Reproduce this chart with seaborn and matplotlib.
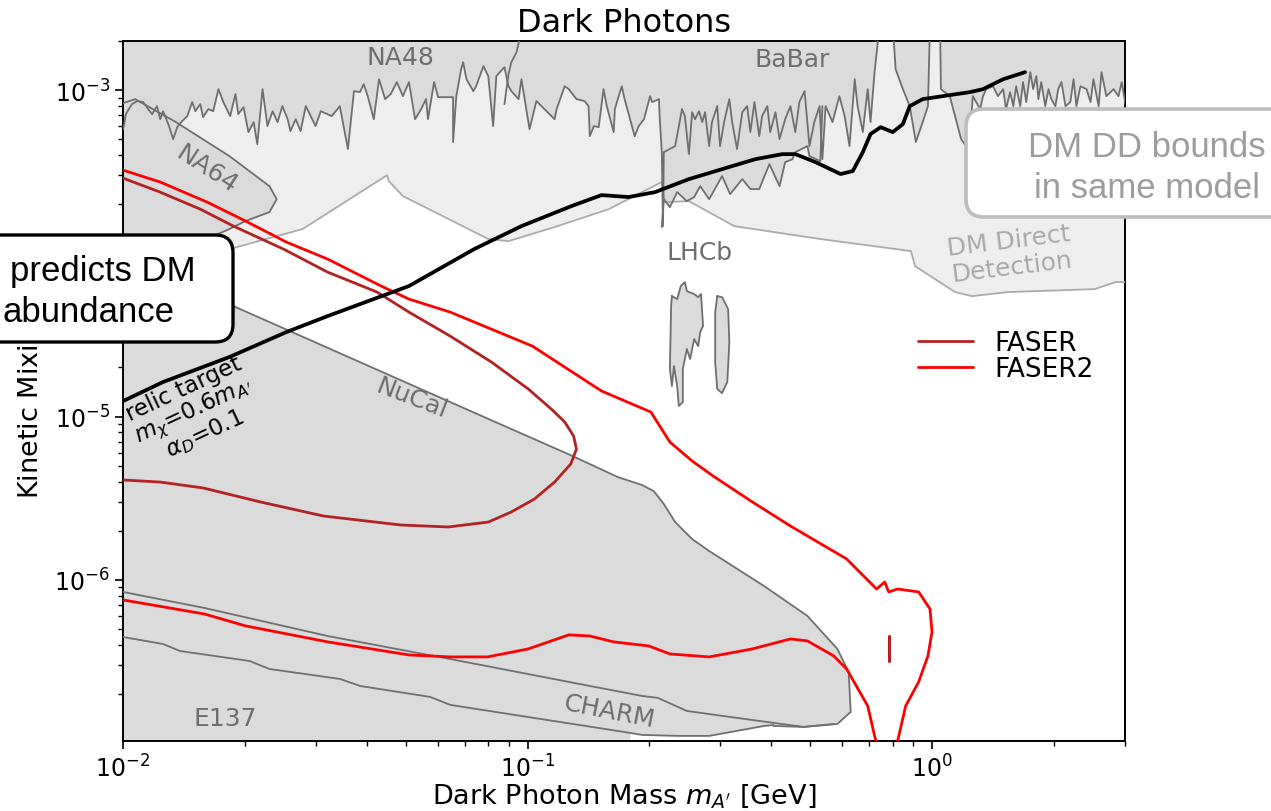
import numpy as np
import matplotlib
matplotlib.use("Agg")
import matplotlib.pyplot as plt
import seaborn as sns
from matplotlib.patches import FancyBboxPatch
from matplotlib.lines import Line2D

sns.set_theme(style="ticks")
plt.rcParams['font.family'] = ['DejaVu Sans']
plt.rcParams['mathtext.fontset'] = 'dejavusans'
plt.rcParams['text.color'] = 'black'
plt.rcParams['axes.labelcolor'] = 'black'

# ---------------- data (log10 of mass [GeV], log10 of epsilon) ----------------
# NA48 / BaBar upper exclusion (lower envelope, jagged)
na48_babar_logm = [-2.000, -1.998, -1.993, -1.978, -1.965, -1.950, -1.938, -1.928, -1.916, -1.908,
                   -1.901, -1.888, -1.876, -1.866, -1.854, -1.841, -1.829, -1.821, -1.809, -1.802,
                   -1.789, -1.777, -1.764, -1.752, -1.735, -1.722, -1.715, -1.702, -1.690, -1.677,
                   -1.668, -1.655, -1.643, -1.630, -1.618, -1.606, -1.593, -1.586, -1.573, -1.561,
                   -1.548, -1.536, -1.524, -1.511, -1.484, -1.464, -1.444, -1.429, -1.414, -1.405,
                   -1.395, -1.380, -1.367, -1.352, -1.338, -1.323, -1.308, -1.293, -1.278, -1.263,
                   -1.251, -1.246, -1.231, -1.221, -1.184, -1.184, -1.176, -1.164, -1.159, -1.151,
                   -1.134, -1.127, -1.109, -1.097, -1.085, -1.077, -1.057, -1.047, -1.040, -1.022,
                   -1.015, -0.995, -0.978, -0.933, -0.928, -0.908, -0.898, -0.879, -0.859, -0.849,
                   -0.846, -0.836, -0.824, -0.812, -0.804, -0.787, -0.784, -0.767, -0.760, -0.735,
                   -0.725, -0.712, -0.697, -0.692, -0.675, -0.673, -0.668, -0.665, -0.663, -0.635,
                   -0.618, -0.611, -0.601, -0.593, -0.586, -0.576, -0.568, -0.561, -0.551, -0.544,
                   -0.531, -0.524, -0.514, -0.501, -0.494, -0.482, -0.469, -0.457, -0.449, -0.439,
                   -0.427, -0.420, -0.407, -0.400, -0.387, -0.377, -0.363, -0.350, -0.338, -0.328,
                   -0.315, -0.303, -0.291, -0.278, -0.271, -0.263, -0.246, -0.229, -0.216, -0.204,
                   -0.191, -0.184, -0.171, -0.159, -0.152, -0.142, -0.134, -0.129, -0.097, -0.090,
                   -0.072, -0.055, -0.040, -0.023, -0.010, -0.005, 0.020, 0.022, 0.044, 0.057,
                   0.072, 0.084, 0.096, 0.101, 0.119, 0.126, 0.134, 0.151, 0.163, 0.176,
                   0.183, 0.193, 0.201, 0.208, 0.218, 0.225, 0.233, 0.243, 0.250, 0.258,
                   0.263, 0.270, 0.280, 0.288, 0.295, 0.305, 0.312, 0.320, 0.330, 0.342,
                   0.350, 0.357, 0.367, 0.382, 0.392, 0.399, 0.412, 0.419, 0.431, 0.449,
                   0.461, 0.469, 0.479, 0.486]
na48_babar_logeps = [-3.239, -3.220, -3.147, -3.086, -3.067, -3.073, -3.116, -3.147, -3.098, -3.178,
                     -3.129, -3.208, -3.300, -3.227, -3.190, -3.159, -3.073, -3.129, -3.086, -3.165,
                     -3.116, -3.129, -2.994, -3.073, -3.159, -3.024, -3.147, -3.104, -3.257, -3.196,
                     -3.331, -2.994, -3.220, -3.129, -3.196, -3.098, -3.178, -3.251, -3.178, -3.251,
                     -3.098, -3.159, -3.220, -3.129, -3.159, -3.098, -3.361, -3.006, -3.012, -2.963,
                     -3.037, -3.178, -2.933, -3.055, -3.024, -2.951, -3.037, -2.951, -3.178, -3.116,
                     -3.055, -3.178, -2.951, -3.043, -3.043, -3.318, -3.037, -2.871, -2.829, -2.933,
                     -3.006, -2.976, -2.853, -2.914, -3.220, -2.914, -2.859, -2.976, -3.006, -3.055,
                     -2.933, -3.239, -3.067, -3.178, -3.116, -2.976, -2.994, -3.055, -3.067, -3.098,
                     -3.282, -3.220, -3.227, -2.994, -3.098, -3.257, -3.116, -2.976, -3.055, -3.282,
                     -3.220, -3.178, -3.037, -3.073, -3.055, -3.178, -3.380, -3.833, -3.380, -3.343,
                     -3.116, -3.159, -3.392, -3.135, -3.178, -3.129, -3.196, -3.135, -3.343, -3.196,
                     -3.098, -3.343, -3.196, -3.055, -3.196, -3.361, -3.135, -3.098, -3.257, -3.073,
                     -3.282, -3.159, -3.098, -3.257, -3.135, -3.300, -3.178, -3.098, -3.257, -3.073,
                     -3.006, -3.343, -3.196, -3.098, -3.423, -3.098, -3.196, -3.037, -3.159, -3.343,
                     -2.933, -3.098, -3.257, -2.994, -3.196, -2.890, -2.706, -2.600, -2.600, -2.871,
                     -2.994, -3.098, -3.318, -3.196, -3.098, -2.600, -2.600, -2.994, -3.037, -3.159,
                     -3.300, -3.343, -3.196, -3.037, -3.116, -3.037, -2.994, -2.976, -3.037, -2.994,
                     -3.116, -3.012, -3.098, -2.976, -3.098, -2.951, -3.073, -2.890, -2.994, -2.914,
                     -3.055, -2.951, -3.098, -2.994, -3.055, -3.098, -2.994, -2.951, -3.098, -3.073,
                     -2.933, -3.098, -2.976, -2.994, -3.073, -2.933, -3.098, -2.890, -3.037, -2.994,
                     -3.037, -2.951, -3.098, -3.055]

# NA48 / BaBar separating curve
na48_edge_logm = [-1.020, -1.027, -1.040, -1.047, -1.052, -1.057]
na48_edge_logeps = [-2.690, -2.767, -2.829, -2.902, -2.994, -3.086]

# LHCb (prompt) jagged lower edge of the top exclusion
lhcb_top_logm = [-0.668, -0.663, -0.648, -0.630, -0.606, -0.588, -0.573, -0.551, -0.519, -0.499,
                 -0.469, -0.449, -0.427, -0.402, -0.377, -0.363, -0.345, -0.338, -0.308, -0.303,
                 -0.276, -0.271]
lhcb_top_logeps = [-3.839, -3.668, -3.717, -3.625, -3.680, -3.655, -3.588, -3.668, -3.527, -3.637,
                   -3.545, -3.606, -3.606, -3.453, -3.588, -3.441, -3.423, -3.380, -3.343, -3.404,
                   -3.435, -3.098]

# LHCb displaced islands
lhcb_isl1_logm = [-0.643, -0.630, -0.621, -0.611, -0.606, -0.588, -0.578, -0.571, -0.566, -0.573,
                  -0.578, -0.588, -0.598, -0.606, -0.616, -0.616, -0.626, -0.630, -0.638, -0.643,
                  -0.648, -0.645]
lhcb_isl1_logeps = [-4.262, -4.280, -4.200, -4.176, -4.231, -4.249, -4.268, -4.249, -4.445, -4.482,
                    -4.568, -4.525, -4.647, -4.586, -4.709, -4.911, -4.935, -4.813, -4.690, -4.813,
                    -4.709, -4.323]
lhcb_isl2_logm = [-0.531, -0.519, -0.504, -0.501, -0.506, -0.519, -0.531, -0.536, -0.536]
lhcb_isl2_logeps = [-4.262, -4.268, -4.341, -4.543, -4.788, -4.856, -4.831, -4.666, -4.360]

# DM direct detection lower edge
dmdd_logm = [-2.000, -1.737, -1.556, -1.347, -1.343, -1.308, -1.097, -1.047, -0.933, -0.799,
             -0.668, -0.660, -0.601, -0.489, -0.276, -0.052, -0.042, 0.057, 0.099, 0.188,
             0.402, 0.454, 0.486]
dmdd_logeps = [-4.219, -3.974, -3.851, -3.521, -3.557, -3.649, -3.912, -3.925, -3.839, -3.729,
               -3.563, -3.686, -3.680, -3.833, -3.912, -3.986, -4.078, -4.237, -4.262, -4.237,
               -4.219, -4.176, -4.176]

# NA64
na64_logm = [-2.000, -1.970, -1.869, -1.737, -1.638, -1.620, -1.638, -1.697, -1.737, -1.777,
             -1.859, -2.000]
na64_logeps = [-3.080, -3.055, -3.196, -3.404, -3.588, -3.668, -3.747, -3.802, -3.851, -3.894,
               -3.974, -4.066]

# NuCal outer edge (beam dump union)
nucal_logm = [-2.000, -1.727, -1.191, -0.889, -0.777, -0.717, -0.688, -0.663, -0.635, -0.593,
              -0.551, -0.415, -0.308, -0.234, -0.206, -0.201, -0.234, -0.318, -0.392]
nucal_logeps = [-4.047, -4.323, -4.911, -5.241, -5.370, -5.419, -5.456, -5.535, -5.646, -5.750,
                -5.823, -6.038, -6.221, -6.423, -6.564, -6.809, -6.883, -6.901, -6.895]

# CHARM upper edge
charm_logm = [-2.000, -1.799, -1.494, -1.191, -0.846, -0.717, -0.678, -0.606, -0.499, -0.318, -0.243]
charm_logeps = [-6.074, -6.172, -6.344, -6.485, -6.650, -6.711, -6.723, -6.803, -6.840, -6.901, -6.883]

# E137 upper edge
e137_logm = [-2.000, -1.901, -1.859, -1.687, -1.638, -1.464, -1.414, -1.241, -1.191, -0.745,
             -0.717, -0.626, -0.551, -0.415, -0.392]
e137_logeps = [-6.350, -6.393, -6.436, -6.497, -6.546, -6.607, -6.650, -6.717, -6.766, -6.938,
               -6.950, -6.956, -6.956, -6.895, -6.889]

# Relic target
relic_logm = [-2.000, -1.901, -1.737, -1.596, -1.494, -1.293, -1.132, -1.015, -0.891, -0.817,
              -0.750, -0.685, -0.601, -0.519, -0.437, -0.370, -0.338, -0.288, -0.226, -0.196,
              -0.171, -0.152, -0.127, -0.097, -0.072, -0.055, -0.023, 0.094, 0.126, 0.176, 0.230]
relic_logeps = [-4.905, -4.788, -4.635, -4.482, -4.384, -4.200, -3.974, -3.833, -3.710, -3.643,
                -3.655, -3.625, -3.545, -3.484, -3.423, -3.392, -3.392, -3.441, -3.514, -3.496,
                -3.380, -3.269, -3.227, -3.257, -3.208, -3.098, -3.055, -3.012, -2.994, -2.933, -2.890]

# FASER sensitivity contour
faser_logm = [-2.000, -1.908, -1.809, -1.727, -1.603, -1.494, -1.372, -1.293, -1.191, -1.089,
              -0.998, -0.941, -0.908, -0.886, -0.879, -0.893, -0.933, -0.983, -1.040, -1.097,
              -1.196, -1.313, -1.504, -1.660, -1.802, -1.908, -2.000]
faser_logeps = [-3.539, -3.625, -3.729, -3.833, -3.974, -4.115, -4.237, -4.360, -4.507, -4.666,
                -4.831, -4.954, -5.033, -5.119, -5.199, -5.290, -5.401, -5.505, -5.584, -5.646,
                -5.676, -5.664, -5.609, -5.523, -5.437, -5.401, -5.388]
faser_island_logm = [-0.107, -0.107]
faser_island_logeps = [-6.344, -6.497]

# FASER2 sensitivity contour
faser2_logm = [-2.000, -1.908, -1.792, -1.697, -1.596, -1.494, -1.362, -1.293, -1.191, -0.988,
               -0.817, -0.695, -0.648, -0.593, -0.541, -0.444, -0.350, -0.211, -0.137, -0.117,
               -0.107, -0.085, -0.033, -0.005, 0.000, -0.010, -0.033, -0.065, -0.085, -0.092,
               -0.142, -0.139, -0.159, -0.211, -0.243, -0.308, -0.350, -0.444, -0.551, -0.648,
               -0.700, -0.787, -0.846, -0.898, -0.998, -1.099, -1.191, -1.293, -1.494, -1.697,
               -1.799, -2.000]
faser2_logeps = [-3.490, -3.563, -3.686, -3.802, -3.931, -4.035, -4.200, -4.280, -4.360, -4.568,
                 -4.843, -4.972, -5.156, -5.272, -5.364, -5.523, -5.670, -5.872, -6.056, -6.013,
                 -6.074, -6.056, -6.074, -6.178, -6.319, -6.466, -6.625, -6.772, -6.987, -7.158,
                 -7.158, -6.987, -6.772, -6.546, -6.466, -6.374, -6.362, -6.423, -6.472, -6.454,
                 -6.405, -6.380, -6.344, -6.337, -6.423, -6.472, -6.472, -6.460, -6.380, -6.282,
                 -6.209, -6.123]

TOP = -2.6
BOT = -7.2

def P(lm, le):
    return 10 ** np.asarray(lm, float), 10 ** np.asarray(le, float)

DARK = '#dbdbdb'
LIGHT = '#eeeeee'
EDGE = '#6f6f6f'
DDEDGE = '#ababab'
LABEL = '#6e6e6e'

fig = plt.figure(figsize=(12.71, 8.12), dpi=100)
ax = fig.add_axes([123 / 1271, 1 - 742 / 812, 1002 / 1271, 700 / 812])
ax.set_xscale('log')
ax.set_yscale('log')

# DM direct detection (light)
x, y = P(dmdd_logm + [dmdd_logm[-1], dmdd_logm[0]], dmdd_logeps + [TOP, TOP])
ax.fill(x, y, color=LIGHT, lw=0, zorder=1)

# NA48/BaBar top exclusion
x, y = P(na48_babar_logm + [na48_babar_logm[-1], na48_babar_logm[0]], na48_babar_logeps + [TOP, TOP])
ax.fill(x, y, color=DARK, lw=0, zorder=2)
x, y = P(lhcb_top_logm + [lhcb_top_logm[-1], lhcb_top_logm[0]], lhcb_top_logeps + [TOP, TOP])
ax.fill(x, y, color=DARK, lw=0, zorder=2)

# NA64
x, y = P(na64_logm, na64_logeps)
ax.fill(x, y, color=DARK, lw=0, zorder=2)

# Beam dumps union (NuCal + CHARM + E137)
tail_m = e137_logm[13:8:-1]
tail_e = e137_logeps[13:8:-1]
x, y = P(nucal_logm + tail_m + [tail_m[-1], -2.0],
         nucal_logeps + tail_e + [BOT, BOT])
ax.fill(x, y, color=DARK, lw=0, zorder=2)

# LHCb islands
for lm, le in [(lhcb_isl1_logm, lhcb_isl1_logeps), (lhcb_isl2_logm, lhcb_isl2_logeps)]:
    x, y = P(lm + lm[:1], le + le[:1])
    ax.fill(x, y, color=DARK, lw=0, zorder=2)
    sns.lineplot(x=x, y=y, sort=False, estimator=None, color=EDGE, linewidth=1.3, ax=ax, zorder=3)

# outlines
def line(lm, le, color, lw, z=3):
    x, y = P(lm, le)
    sns.lineplot(x=x, y=y, sort=False, estimator=None, color=color, linewidth=lw, ax=ax, zorder=z)

line(dmdd_logm, dmdd_logeps, DDEDGE, 1.3)
line(na48_babar_logm, na48_babar_logeps, EDGE, 1.3)
line(na48_edge_logm, na48_edge_logeps, EDGE, 1.3)
line(lhcb_top_logm, lhcb_top_logeps, EDGE, 1.3)
line(na64_logm, na64_logeps, EDGE, 1.3)
line(nucal_logm, nucal_logeps, EDGE, 1.3)
line(charm_logm, charm_logeps, EDGE, 1.3)
line(e137_logm, e137_logeps, EDGE, 1.3)

# sensitivity curves
line(faser_logm, faser_logeps, 'firebrick', 2.0, 4)
line(faser_island_logm, faser_island_logeps, 'firebrick', 2.2, 4)
line(faser2_logm, faser2_logeps, 'red', 2.0, 4)
line(relic_logm, relic_logeps, 'black', 2.7, 5)

ax.set_xlim(0.01, 3)
ax.set_ylim(1.03e-7, 2e-3)

# region labels
kw = dict(color=LABEL, fontsize=18, ha='center', va='center', zorder=6)
ax.text(0.0486, 1.59e-3, 'NA48', **kw)
ax.text(0.452, 1.55e-3, 'BaBar', **kw)
ax.text(0.267, 1.02e-4, 'LHCb', **kw)
ax.text(0.0161, 3.3e-4, 'NA64', rotation=-33, **kw)
ax.text(0.0518, 1.30e-5, 'NuCal', rotation=-21, **kw)
ax.text(0.1595, 1.57e-7, 'CHARM', rotation=-11, **kw)
ax.text(0.0179, 1.43e-7, 'E137', **kw)
ax.text(1.56, 1.0e-4, 'DM Direct\nDetection', color='#a9a9a9', fontsize=18, ha='center',
        va='center', rotation=7, linespacing=1.1, zorder=6)
ax.text(0.0150, 1.08e-5, "relic target\n$m_\\chi$=0.6$m_{A'}$\n$\\alpha_D$=0.1", color='black',
        fontsize=16.5, ha='center', va='center', rotation=25, linespacing=0.95, zorder=6)

# legend
handles = [Line2D([], [], color='firebrick', lw=2.0, label='FASER'),
           Line2D([], [], color='red', lw=2.0, label='FASER2')]
ax.legend(handles=handles, loc='upper left', bbox_to_anchor=(0.793, 0.587), frameon=False,
          fontsize=19, handlelength=2.1, handletextpad=0.8, labelspacing=0.0,
          borderaxespad=0, borderpad=0)

ax.set_title('Dark Photons', fontsize=23, pad=7, color='black')
ax.set_xlabel("Dark Photon Mass $m_{A'}$ [GeV]", fontsize=19.5, labelpad=0)
ax.set_ylabel("Kinetic Mixing $\\epsilon$", fontsize=19.5, labelpad=6)
for s in ax.spines.values():
    s.set_color('black')
    s.set_linewidth(1.4)
ax.tick_params(which='major', length=6, width=1.2, labelsize=17, direction='out', colors='black')
ax.tick_params(which='minor', length=3.5, width=1.0, direction='out', colors='black')

# overlay annotation boxes (slide call-outs)
asp = 1271 / 812
b1 = FancyBboxPatch((-20 / 1271, 1 - 343 / 812), 253 / 1271, 107 / 812,
                    boxstyle='round,pad=0,rounding_size=0.014', mutation_aspect=asp,
                    transform=fig.transFigure, facecolor='white', edgecolor='black',
                    linewidth=2.4, zorder=10)
fig.add_artist(b1)
fig.text(10 / 1271, 1 - 281 / 812, 'predicts DM', fontsize=25, family='Liberation Sans',
         va='baseline', ha='left', zorder=11)
fig.text(3 / 1271, 1 - 322 / 812, 'abundance', fontsize=25, family='Liberation Sans',
         va='baseline', ha='left', zorder=11)

b2 = FancyBboxPatch((966 / 1271, 1 - 218 / 812), 330 / 1271, 108 / 812,
                    boxstyle='round,pad=0,rounding_size=0.014', mutation_aspect=asp,
                    transform=fig.transFigure, facecolor='white', edgecolor='#bdbdbd',
                    linewidth=2.6, zorder=10)
fig.add_artist(b2)
fig.text(1147 / 1271, 1 - 157 / 812, 'DM DD bounds', fontsize=25, family='Liberation Sans',
         color='#9d9d9d', va='baseline', ha='center', zorder=11)
fig.text(1147 / 1271, 1 - 198 / 812, 'in same model', fontsize=25, family='Liberation Sans',
         color='#9d9d9d', va='baseline', ha='center', zorder=11)

fig.savefig('out.png', dpi=100)
